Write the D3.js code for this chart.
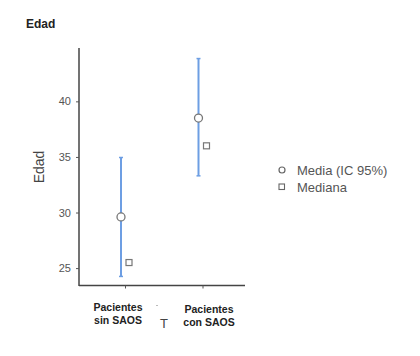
<!DOCTYPE html>
<html>
<head>
<meta charset="utf-8">
<script src="https://cdn.jsdelivr.net/npm/d3@7"></script>
<style>
  body { margin: 0; background: #fff; }
  text { font-family: "Liberation Sans", Arial, sans-serif; }
</style>
</head>
<body>
<div id="chart"></div>
<script>
// datos
var grupos = ["Pacientes|sin SAOS", "Pacientes|con SAOS"];
var medias = [29.6, 38.5];
var icInf = [24.25, 33.3];
var icSup = [34.95, 43.85];
var medianas = [25.5, 36.0];
var yTicks = [25, 30, 35, 40];

var W = 420, H = 356;
var svg = d3.select("#chart").append("svg")
    .attr("width", W).attr("height", H);

// escalas
var x = d3.scalePoint().domain(grupos).range([125, 202.5]);
var y = d3.scaleLinear().domain([23.3, 44.8]).range([287, 48]);

// titulo
svg.append("text")
    .attr("x", 26).attr("y", 28)
    .style("font-size", "12px").style("font-weight", "bold")
    .attr("fill", "#222")
    .text("Edad");

// eje Y
var yAxis = svg.append("g")
    .attr("transform", "translate(79,0)")
    .call(d3.axisLeft(y).tickValues(yTicks).tickSize(3).tickPadding(5));
yAxis.select(".domain").attr("d", "M0," + y.range()[1] + "V" + 286)
    .attr("stroke", "#444").attr("stroke-width", 1.5);
yAxis.selectAll(".tick line").attr("stroke", "#555");
yAxis.selectAll(".tick text").attr("fill", "#555").style("font-size", "11px");

// eje X
var xAxis = svg.append("g")
    .attr("transform", "translate(0,285.5)")
    .call(d3.axisBottom(x).tickSize(3).tickFormat(""));
xAxis.select(".domain").attr("d", "M79,0H245")
    .attr("stroke", "#444").attr("stroke-width", 1.5);
xAxis.selectAll(".tick line").attr("stroke", "#555");

// etiquetas X (dos lineas, negrita)
var labX = [118, 209];
var labY = [311, 313];
grupos.forEach(function (g, i) {
    var t = svg.append("text")
        .attr("text-anchor", "middle")
        .style("font-size", "10.5px").style("font-weight", "bold")
        .attr("fill", "#222");
    g.split("|").forEach(function (l, j) {
        t.append("tspan").attr("x", labX[i]).attr("y", labY[i] + j * 12.5).text(l);
    });
});

// marcas sueltas
svg.append("text").attr("x", 164).attr("y", 328)
    .attr("text-anchor", "middle").style("font-size", "13px").attr("fill", "#444").text("T");
svg.append("rect").attr("x", 156).attr("y", 305).attr("width", 2).attr("height", 1).attr("fill", "#bbb");

// titulo eje Y
svg.append("text")
    .attr("transform", "translate(44,167) rotate(-90)")
    .attr("text-anchor", "middle")
    .style("font-size", "14px").attr("fill", "#444")
    .text("Edad");

// barras de error
var off = 4;
var eb = svg.append("g");
grupos.forEach(function (g, i) {
    var cx = x(g) - off;
    eb.append("line").attr("x1", cx).attr("x2", cx)
        .attr("y1", y(icInf[i])).attr("y2", y(icSup[i]))
        .attr("stroke", "#6d9ee3").attr("stroke-width", 2);
    [icInf[i], icSup[i]].forEach(function (v) {
        eb.append("line").attr("x1", cx - 2).attr("x2", cx + 2)
            .attr("y1", y(v)).attr("y2", y(v))
            .attr("stroke", "#6d9ee3").attr("stroke-width", 1.5);
    });
});

// medias
svg.selectAll(".media").data(medias).enter().append("circle")
    .attr("cx", function (d, i) { return x(grupos[i]) - off; })
    .attr("cy", function (d) { return y(d); })
    .attr("r", 4)
    .attr("fill", "#fff").attr("stroke", "#777").attr("stroke-width", 1.3);

// medianas
svg.selectAll(".mediana").data(medianas).enter().append("rect")
    .attr("x", function (d, i) { return x(grupos[i]) + off - 3; })
    .attr("y", function (d) { return y(d) - 3; })
    .attr("width", 6).attr("height", 6)
    .attr("fill", "#fff").attr("stroke", "#777").attr("stroke-width", 1.2);

// leyenda
svg.append("circle").attr("cx", 282).attr("cy", 170).attr("r", 3)
    .attr("fill", "#fff").attr("stroke", "#666").attr("stroke-width", 1.2);
svg.append("rect").attr("x", 279).attr("y", 184).attr("width", 5.5).attr("height", 5.5)
    .attr("fill", "#fff").attr("stroke", "#666").attr("stroke-width", 1.1);
svg.append("text").attr("x", 297).attr("y", 175)
    .style("font-size", "13px").attr("fill", "#555").text("Media (IC 95%)");
svg.append("text").attr("x", 297).attr("y", 192)
    .style("font-size", "13px").attr("fill", "#555").text("Mediana");
</script>
</body>
</html>
